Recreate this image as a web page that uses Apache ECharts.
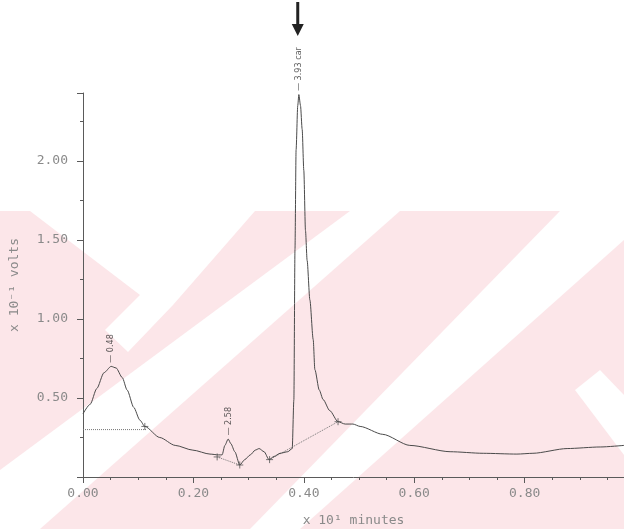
<!DOCTYPE html>
<html><head><meta charset="utf-8">
<script src="https://cdn.jsdelivr.net/npm/echarts@6/dist/echarts.min.js"></script>
<style>html,body{margin:0;padding:0;background:#fff}#c{width:624px;height:529px}</style>
</head><body><div id="c"></div>
<script>
// Time (x 10^1 minutes) and signal (x 10^-1 volts)
const timeValues = [0.000,0.013,0.025,0.038,0.051,0.060,0.071,0.080,0.092,0.103,0.112,0.139,0.167,0.199,0.230,0.245,0.252,0.257,0.263,0.268,0.275,0.284,0.293,0.303,0.312,0.319,0.328,0.337,0.346,0.357,0.371,0.379,0.382,0.384,0.386,0.389,0.391,0.394,0.397,0.400,0.403,0.406,0.411,0.417,0.420,0.428,0.435,0.447,0.462,0.475,0.489,0.502,0.543,0.592,0.665,0.725,0.786,0.815,0.877,0.937,0.980];
const voltValues = [0.40,0.46,0.56,0.66,0.70,0.69,0.63,0.55,0.44,0.36,0.32,0.25,0.20,0.17,0.145,0.14,0.14,0.20,0.24,0.21,0.16,0.076,0.11,0.14,0.17,0.18,0.16,0.11,0.13,0.15,0.16,0.18,0.49,1.44,2.07,2.35,2.42,2.35,2.20,1.94,1.56,1.37,1.12,0.87,0.68,0.55,0.49,0.42,0.35,0.335,0.335,0.32,0.27,0.20,0.16,0.15,0.145,0.15,0.18,0.19,0.20];
// dotted integration baselines
const base1T = [0.000, 0.116];
const base1V = [0.30, 0.30];
const base2T = [0.243, 0.284];
const base2V = [0.127, 0.076];
const base3T = [0.338, 0.462];
const base3V = [0.11, 0.35];
// baseline start/stop marks
const markT = [0.112, 0.243, 0.284, 0.338, 0.462];
const markV = [0.32, 0.127, 0.076, 0.11, 0.35];
// peak labels
const peakNames = ['0.48', '2.58', '3.93 car'];
const peakT = [0.051, 0.263, 0.391];
const peakV = [0.70, 0.24, 2.42];
// axes
const xMin = 0, xMax = 0.98, xStep = 0.2;
const yMin = 0, yMax = 2.43, yStep = 0.5;
const xTitle = 'x 10\u00b9 minutes';
const yTitle = 'x 10\u207b\u00b9 volts';

const pair = (a, b) => a.map((v, i) => [v, b[i]]);
const axisColor = '#5a5a5a';
const textColor = '#8a8a8a';
const mono = 'DejaVu Sans Mono';

const chart = echarts.init(document.getElementById('c'));
const option = {
  backgroundColor: 'transparent',
  animation: false,
  grid: { left: 83, right: 0, top: 93, bottom: 52, containLabel: false, outerBoundsMode: 'none' },
  xAxis: {
    type: 'value', min: xMin, max: xMax, interval: xStep,
    name: xTitle, nameLocation: 'middle', nameGap: 37,
    nameTextStyle: { color: textColor, fontFamily: mono, fontSize: 13 },
    axisLine: { lineStyle: { color: axisColor, width: 1 } },
    axisTick: { show: true, length: 6, lineStyle: { color: axisColor } },
    minorTick: { show: true, splitNumber: 4, length: 3, lineStyle: { color: axisColor } },
    splitLine: { show: false },
    axisLabel: { color: textColor, fontFamily: mono, fontSize: 13, margin: 10, showMaxLabel: false,
      formatter: v => v.toFixed(2) }
  },
  yAxis: {
    type: 'value', min: yMin, max: yMax, interval: yStep,
    name: yTitle, nameLocation: 'middle', nameGap: 62, nameRotate: 90,
    nameTextStyle: { color: textColor, fontFamily: mono, fontSize: 13 },
    axisLine: { show: true, lineStyle: { color: axisColor, width: 1 } },
    axisTick: { show: true, length: 6, lineStyle: { color: axisColor } },
    minorTick: { show: true, splitNumber: 2, length: 3, lineStyle: { color: axisColor } },
    splitLine: { show: false },
    axisLabel: { color: textColor, fontFamily: mono, fontSize: 13, margin: 15, showMaxLabel: false,
      formatter: v => v === 0 ? '' : v.toFixed(2) }
  },
  series: [
    { type: 'line', data: pair(timeValues, voltValues), showSymbol: false, symbol: 'none',
      smooth: 0.25, smoothMonotone: 'x',
      lineStyle: { color: '#4a4a4a', width: 1 }, z: 5 },
    { type: 'line', data: pair(base1T, base1V), symbol: 'none', lineStyle: { color: '#777', width: 1, type: 'dotted' } },
    { type: 'line', data: pair(base2T, base2V), symbol: 'none', lineStyle: { color: '#777', width: 1, type: 'dotted' } },
    { type: 'line', data: pair(base3T, base3V), symbol: 'none', lineStyle: { color: '#777', width: 1, type: 'dotted' } },
    { type: 'scatter', data: pair(markT, markV), symbol: 'path://M5,0L5,10M0,5L10,5', symbolSize: 7,
      itemStyle: { color: 'none', borderColor: '#555', borderWidth: 1 } },
    { type: 'scatter', data: pair(peakT, peakV).map((d, i) => ({ value: d, name: peakNames[i] })),
      symbolSize: 1, itemStyle: { color: 'transparent' },
      label: { show: true, position: 'top', distance: 3, rotate: 90, align: 'left', verticalAlign: 'middle',
        formatter: p => '\u2014 ' + p.name, fontFamily: 'DejaVu Sans Condensed', fontSize: 9, color: '#333' } }
  ]
};
chart.setOption(option);
const ax = chart.convertToPixel({ xAxisIndex: 0, yAxisIndex: 0 }, [0.389, 0])[0];
const W = 624, H = 529;
const white = '#ffffff', pink = '#fce6e9';
chart.setOption({
  graphic: [
    { type: 'rect', silent: true, z: -10, shape: { x: 0, y: 211, width: W, height: H - 211 }, style: { fill: pink } },
    { type: 'polygon', silent: true, z: -9, shape: { points: [[30,211],[255,211],[173,305],[128,352],[105,330],[140,295]] }, style: { fill: white } },
    { type: 'polygon', silent: true, z: -9, shape: { points: [[0,470],[0,529],[40,529],[400,211],[350,211]] }, style: { fill: white } },
    { type: 'polygon', silent: true, z: -9, shape: { points: [[250,529],[300,529],[624,240],[624,190],[560,211]] }, style: { fill: white } },
    { type: 'polygon', silent: true, z: -9, shape: { points: [[575,390],[600,370],[624,395],[624,455]] }, style: { fill: white } },
    { type: 'line', silent: true, shape: { x1: ax, y1: 2, x2: ax, y2: 26 }, style: { stroke: '#222', lineWidth: 3 } },
    { type: 'polygon', silent: true, shape: { points: [[ax - 6, 24], [ax + 6, 24], [ax, 36]] }, style: { fill: '#222' } }
  ]
});
</script></body></html>
